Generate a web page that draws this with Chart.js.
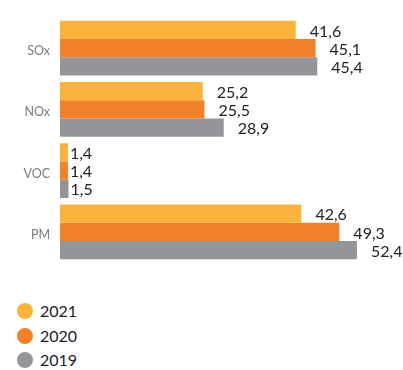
<!DOCTYPE html>
<html lang="ru">
<head>
<meta charset="UTF-8">
<title>emissions</title>
<script src="https://cdn.jsdelivr.net/npm/chart.js@4.4.1/dist/chart.umd.min.js"></script>
<style>
  *{margin:0; padding:0;}
  body{width:403px; height:370px; background:#fff; overflow:hidden;}
  #wrap{position:relative; width:403px; height:370px;}
  .chart{position:absolute; left:0; top:0; width:403px; height:280px;}
  .legend{position:absolute; left:17px; top:299px; list-style:none; font:16px Lato, sans-serif; color:#222;}
  .legend li{height:24.5px; line-height:24px; display:flex; align-items:center;}
  .legend .dot{width:16px; height:16px; border-radius:50%; margin-right:7px;}
</style>
</head>
<body>
<div id="wrap">
  <div class="chart"><canvas id="barChart"></canvas></div>
  <ul class="legend" id="barLegend"></ul>
</div>

<script>
const categories = ['SOx', 'NOx', 'VOC', 'PM'];
const years = ['2021', '2020', '2019'];
const values2021 = [41.6, 25.2, 1.4, 42.6];
const values2020 = [45.1, 25.5, 1.4, 49.3];
const values2019 = [45.4, 28.9, 1.5, 52.4];
const colors = ['#fbb33b', '#f2812b', '#949598'];

const series = [values2021, values2020, values2019];

// value labels to the right of every bar, with a decimal comma
const barValues = {
  id: 'barValues',
  afterDatasetsDraw(chart) {
    const ctx = chart.ctx;
    ctx.save();
    ctx.font = '16px Lato, sans-serif';
    ctx.fillStyle = '#222';
    ctx.textAlign = 'left';
    ctx.textBaseline = 'middle';
    chart.data.datasets.forEach(function(ds, i) {
      const meta = chart.getDatasetMeta(i);
      meta.data.forEach(function(bar, j) {
        const v = ds.data[j];
        const gap = v < 5 ? 2 : 14;
        ctx.fillText(v.toFixed(1).replace('.', ','), bar.x + gap, bar.y + 1.5);
      });
    });
    ctx.restore();
  }
};

const chart = new Chart(document.getElementById('barChart'), {
  type: 'bar',
  data: {
    labels: categories,
    datasets: years.map(function(y, i) {
      return {
        label: y,
        data: series[i],
        backgroundColor: colors[i],
        borderWidth: 0,
        barPercentage: 1,
        categoryPercentage: 0.89
      };
    })
  },
  options: {
    indexAxis: 'y',
    responsive: true,
    maintainAspectRatio: false,
    animation: false,
    layout: {padding: {top: 10.5, bottom: 13.5, left: 0, right: 3}},
    plugins: {legend: {display: false}, tooltip: {enabled: false}},
    scales: {
      x: {display: false, min: 0, max: 60},
      y: {
        grid: {display: false, drawTicks: false},
        border: {display: false},
        afterFit(scale) { scale.width = 60; },
        ticks: {
          color: '#7a7a7a',
          font: {family: 'Lato, sans-serif', size: 12.5},
          padding: 10,
          labelOffset: 3
        }
      }
    }
  },
  plugins: [barValues]
});

// legend stacked vertically under the chart
const legend = document.getElementById('barLegend');
years.forEach(function(y, i) {
  const li = document.createElement('li');
  li.innerHTML = '<span class="dot" style="background:' + colors[i] + '"></span>' + y;
  legend.appendChild(li);
});
</script>
</body>
</html>
